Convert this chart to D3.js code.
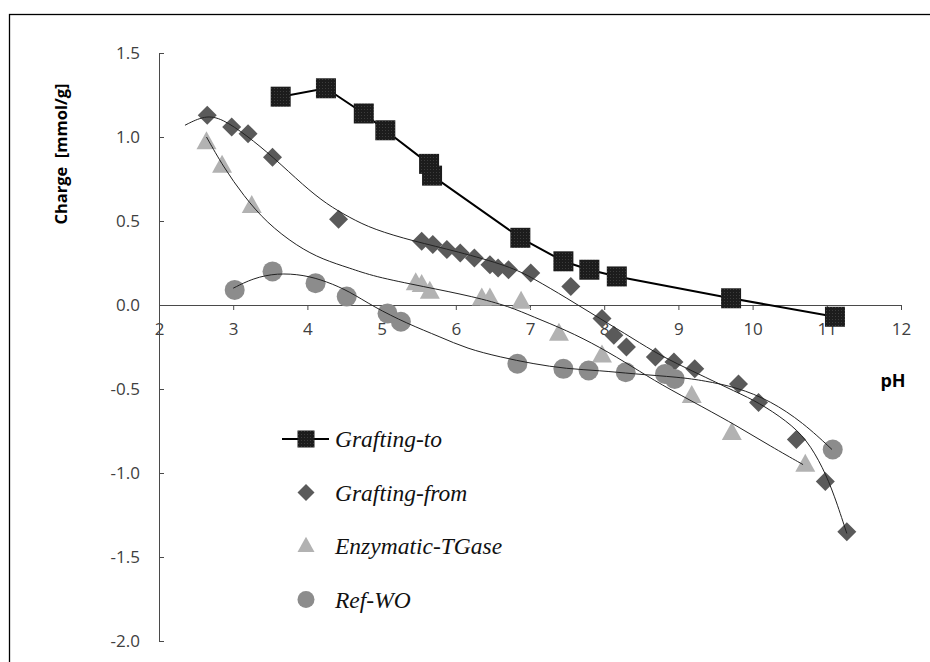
<!DOCTYPE html>
<html>
<head>
<meta charset="utf-8">
<script src="https://cdn.jsdelivr.net/npm/d3@7"></script>
<style>
  body { margin: 0; background: #fff; }
  svg { display: block; }
</style>
</head>
<body>
<div id="chart"></div>
<script>
const width = 930;
const height = 662;

// Grafting-to (squares, joined by a line)
const phTo     = [3.64, 4.25, 4.76, 5.05, 5.64, 5.68, 6.87, 7.45, 7.80, 8.17, 9.71, 11.11];
const chargeTo = [1.24, 1.29, 1.14, 1.04, 0.84, 0.77, 0.40, 0.26, 0.21, 0.17, 0.04, -0.07];

// Grafting-from (diamonds)
const phFrom     = [2.65, 2.98, 3.20, 3.53, 4.42, 5.54, 5.69, 5.88, 6.06, 6.25, 6.46, 6.57, 6.71, 7.01,
                    7.55, 7.97, 8.13, 8.30, 8.69, 8.94, 9.22, 9.81, 10.08, 10.59, 10.98, 11.27];
const chargeFrom = [1.13, 1.06, 1.02, 0.88, 0.51, 0.38, 0.36, 0.33, 0.31, 0.28, 0.24, 0.22, 0.21, 0.19,
                    0.11, -0.08, -0.18, -0.25, -0.31, -0.34, -0.38, -0.47, -0.58, -0.80, -1.05, -1.35];

// Enzymatic-TGase (triangles)
const phEnz     = [2.64, 2.85, 3.25, 5.46, 5.54, 5.65, 6.35, 6.46, 6.88, 7.39, 7.97, 9.18, 9.72, 10.71];
const chargeEnz = [0.97, 0.83, 0.59, 0.13, 0.12, 0.08, 0.04, 0.04, 0.02, -0.17, -0.30, -0.54, -0.76, -0.95];

// Ref-WO (circles)
const phRef     = [3.02, 3.53, 4.11, 4.53, 5.08, 5.26, 6.83, 7.45, 7.79, 8.29, 8.82, 8.95, 11.08];
const chargeRef = [0.09, 0.20, 0.13, 0.05, -0.05, -0.10, -0.35, -0.38, -0.39, -0.40, -0.41, -0.44, -0.86];

// trend lines
const trendFromPh     = [2.35, 2.62, 2.85, 3.18, 3.54, 3.95, 4.26, 4.57, 4.89, 5.43, 6.01, 6.73, 7.04, 7.50, 7.94,
                         8.39, 8.75, 9.22, 9.79, 10.08, 10.46, 10.73, 10.95, 11.10, 11.27];
const trendFromCharge = [1.07, 1.13, 1.11, 1.01, 0.88, 0.71, 0.60, 0.52, 0.45, 0.38, 0.32, 0.23, 0.16, 0.04, -0.08,
                         -0.20, -0.30, -0.40, -0.52, -0.58, -0.69, -0.80, -0.97, -1.13, -1.36];

const trendEnzPh     = [2.64, 2.87, 3.14, 3.45, 3.86, 4.21, 4.57, 4.89, 5.56, 6.24, 6.73, 7.04, 7.49, 7.94,
                        8.39, 8.75, 9.34, 9.79, 10.24, 10.68];
const trendEnzCharge = [1.00, 0.82, 0.65, 0.49, 0.35, 0.27, 0.22, 0.17, 0.11, 0.05, -0.01, -0.07, -0.15, -0.25,
                        -0.37, -0.47, -0.61, -0.72, -0.84, -0.95];

const trendRefPh     = [3.00, 3.27, 3.59, 3.95, 4.26, 4.57, 4.89, 5.34, 5.79, 6.15, 6.60, 7.04, 7.49, 7.94,
                        8.39, 9.02, 9.34, 9.79, 10.24, 10.68, 11.07];
const trendRefCharge = [0.10, 0.16, 0.19, 0.18, 0.14, 0.08, -0.01, -0.11, -0.19, -0.26, -0.31, -0.35, -0.38, -0.39,
                        -0.41, -0.43, -0.45, -0.49, -0.57, -0.70, -0.86];

const xTicks = [2, 3, 4, 5, 6, 7, 8, 9, 10, 11, 12];
const yTicks = [-2.0, -1.5, -1.0, -0.5, 0.0, 0.5, 1.0, 1.5];
const seriesNames = ["Grafting-to", "Grafting-from", "Enzymatic-TGase", "Ref-WO"];

const colTo = "#1c1c1c", colFrom = "#5a5a5a", colEnz = "#b2b2b2", colRef = "#8c8c8c";

const zip = (xs, ys) => xs.map((x, i) => [x, ys[i]]);

let svg = d3.select("#chart")
            .append("svg")
            .attr("width", width)
            .attr("height", height);

// frame
svg.append("rect")
   .attr("x", 9.5).attr("y", 14.5)
   .attr("width", width + 20).attr("height", height + 20)
   .attr("fill", "none").attr("stroke", "#000").attr("stroke-width", 1.3);

// dotted texture for the squares
const pat = svg.append("defs").append("pattern")
   .attr("id", "dots").attr("patternUnits", "userSpaceOnUse")
   .attr("width", 3).attr("height", 3);
pat.append("rect").attr("width", 3).attr("height", 3).attr("fill", colTo);
pat.append("rect").attr("x", 1).attr("y", 1).attr("width", 1).attr("height", 1).attr("fill", "#3c3c3c");

const x = d3.scaleLinear().domain([2, 12]).range([159, 901]);
const y = d3.scaleLinear().domain([-2, 1.5]).range([641, 53]);

// axes
const xAxis = svg.append("g")
   .attr("transform", `translate(0, ${y(0)})`)
   .call(d3.axisBottom(x).tickValues(xTicks).tickFormat(d3.format("d"))
           .tickSizeInner(5).tickSizeOuter(0).tickPadding(13));

const yAxis = svg.append("g")
   .attr("transform", `translate(${x(2)}, 0)`)
   .call(d3.axisLeft(y).tickValues(yTicks).tickFormat(d3.format(".1f"))
           .tickSizeInner(-5).tickSizeOuter(0).tickPadding(19));

[xAxis, yAxis].forEach(ax => {
  ax.select(".domain").attr("stroke", "#4a4a4a");
  ax.selectAll(".tick line").attr("stroke", "#4a4a4a");
  ax.selectAll(".tick text")
    .attr("fill", "#404040")
    .style("font-family", "'Open Sans', sans-serif")
    .style("font-size", "17px");
});
yAxis.selectAll(".tick text").text(d => d3.format(".1f")(d).replace("−", "-"));

// axis titles
svg.append("text")
   .attr("transform", "translate(67, 154) rotate(-90)")
   .attr("text-anchor", "middle")
   .style("font-family", "'Open Sans', sans-serif")
   .style("font-size", "16.5px")
   .style("font-weight", "bold")
   .attr("xml:space", "preserve")
   .text("Charge  [mmol/g]");

svg.append("text")
   .attr("x", 893).attr("y", 387)
   .attr("text-anchor", "middle")
   .style("font-family", "'Open Sans', sans-serif")
   .style("font-size", "18px")
   .style("font-weight", "bold")
   .text("pH");

// marker shapes
function square(g, cx, cy, s) {
  g.append("rect").attr("x", cx - s / 2).attr("y", cy - s / 2)
   .attr("width", s).attr("height", s).attr("fill", "url(#dots)");
}
function diamond(g, cx, cy, s) {
  const h = s / 2;
  g.append("path").attr("d", `M${cx},${cy - h}L${cx + h},${cy}L${cx},${cy + h}L${cx - h},${cy}Z`)
   .attr("fill", colFrom);
}
function triangle(g, cx, cy, s) {
  const h = s * 0.9;
  g.append("path").attr("d", `M${cx},${cy - h * 0.6}L${cx + s / 2},${cy + h * 0.4}L${cx - s / 2},${cy + h * 0.4}Z`)
   .attr("fill", colEnz);
}
function circle(g, cx, cy, s) {
  g.append("circle").attr("cx", cx).attr("cy", cy).attr("r", s / 2).attr("fill", colRef);
}

const line = d3.line().x(d => x(d[0])).y(d => y(d[1]));
const trend = d3.line().x(d => x(d[0])).y(d => y(d[1])).curve(d3.curveBasis);

// Grafting-to line + squares
svg.append("path")
   .datum(zip(phTo, chargeTo))
   .attr("d", line)
   .attr("fill", "none").attr("stroke", "#000").attr("stroke-width", 2);

const marks = svg.append("g");
zip(phTo, chargeTo).forEach(d => square(marks, x(d[0]), y(d[1]), 20));
zip(phFrom, chargeFrom).forEach(d => diamond(marks, x(d[0]), y(d[1]), 19));
zip(phEnz, chargeEnz).forEach(d => triangle(marks, x(d[0]), y(d[1]), 20));
zip(phRef, chargeRef).forEach(d => circle(marks, x(d[0]), y(d[1]), 20));

// trend lines on top
[[trendFromPh, trendFromCharge], [trendEnzPh, trendEnzCharge], [trendRefPh, trendRefCharge]].forEach(t => {
  svg.append("path")
     .datum(zip(t[0], t[1]))
     .attr("d", trend)
     .attr("fill", "none").attr("stroke", "#222").attr("stroke-width", 1);
});

// legend
const legend = svg.append("g").attr("transform", "translate(306, 439)");
const rowGap = 53.5;
const drawers = [square, diamond, triangle, circle];
seriesNames.forEach((name, i) => {
  const row = legend.append("g").attr("transform", `translate(0, ${i * rowGap})`);
  if (i === 0) {
    row.append("line").attr("x1", -24).attr("x2", 23).attr("y1", 0).attr("y2", 0)
       .attr("stroke", "#000").attr("stroke-width", 2);
  }
  drawers[i](row, 0, 0, 17);
  row.append("text")
     .attr("x", 29).attr("y", 8)
     .style("font-family", "'Liberation Serif', serif")
     .style("font-style", "italic")
     .style("font-size", "23.5px")
     .attr("fill", "#111")
     .text(name);
});
</script>
</body>
</html>
